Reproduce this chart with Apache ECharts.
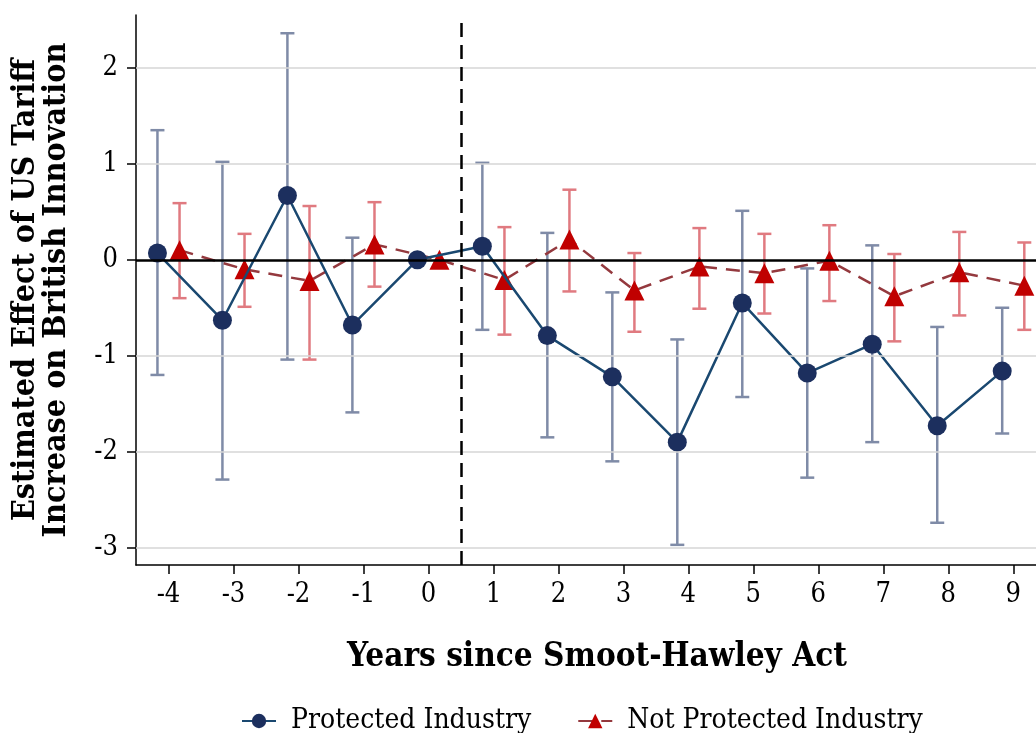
<!DOCTYPE html>
<html>
<head>
<meta charset="utf-8">
<script src="https://cdn.jsdelivr.net/npm/echarts@6/dist/echarts.min.js"></script>
<style>
  html, body { margin: 0; padding: 0; background: #fff; }
  #chart { width: 1036px; height: 733px; }
</style>
</head>
<body>
<div id="chart"></div>
<script>
// Event-study estimates: years relative to the Smoot-Hawley Act (year 0 is the reference year)
const years = [-4, -3, -2, -1, 0, 1, 2, 3, 4, 5, 6, 7, 8, 9];

const protectedEst = [0.07, -0.63, 0.67, -0.68, 0, 0.14, -0.79, -1.22, -1.90, -0.45, -1.18, -0.88, -1.73, -1.16];
const protectedLo  = [-1.20, -2.29, -1.04, -1.59, null, -0.73, -1.85, -2.10, -2.97, -1.43, -2.27, -1.90, -2.74, -1.81];
const protectedHi  = [1.35, 1.02, 2.36, 0.23, null, 1.01, 0.28, -0.34, -0.83, 0.51, -0.09, 0.15, -0.70, -0.50];

const notProtEst = [0.10, -0.10, -0.22, 0.16, 0, -0.21, 0.21, -0.32, -0.07, -0.14, -0.01, -0.38, -0.13, -0.27];
const notProtLo  = [-0.40, -0.49, -1.04, -0.28, null, -0.78, -0.33, -0.75, -0.51, -0.56, -0.43, -0.85, -0.58, -0.73];
const notProtHi  = [0.59, 0.27, 0.56, 0.60, null, 0.34, 0.73, 0.07, 0.33, 0.27, 0.36, 0.06, 0.29, 0.18];

const yTicks = [-3, -2, -1, 0, 1, 2];
const treatmentLine = 0.5;

const FONT = '"DejaVu Serif Condensed", "DejaVu Serif", serif';
const SHIFT = 0.17; // horizontal dodge so the two groups do not overlap

const pts = (est, dx) => years.map((y, i) => [y + dx, est[i]]);
const bars = (lo, hi, dx) => years.map((y, i) => [y + dx, lo[i], hi[i]]).filter(d => d[1] != null);

function capRenderer(color) {
  return function (params, api) {
    const x = api.value(0);
    const lo = api.coord([x, api.value(1)]);
    const hi = api.coord([x, api.value(2)]);
    const w = 7;
    const style = { stroke: color, lineWidth: 2.5 };
    return {
      type: 'group',
      children: [
        { type: 'line', shape: { x1: lo[0], y1: lo[1], x2: hi[0], y2: hi[1] }, style },
        { type: 'line', shape: { x1: lo[0] - w, y1: lo[1], x2: lo[0] + w, y2: lo[1] }, style },
        { type: 'line', shape: { x1: hi[0] - w, y1: hi[1], x2: hi[0] + w, y2: hi[1] }, style }
      ]
    };
  };
}

const chart = echarts.init(document.getElementById('chart'), null, { renderer: 'canvas' });

chart.setOption({
  backgroundColor: '#fff',
  animation: false,
  grid: { left: 136, right: 0, top: 15, bottom: 168, containLabel: false, outerBoundsMode: 'none' },
  xAxis: {
    type: 'value',
    min: -4.5,
    max: 9.35,
    name: 'Years since Smoot-Hawley Act',
    nameLocation: 'middle',
    nameGap: 76,
    nameTextStyle: { fontFamily: FONT, fontWeight: 'bold', fontSize: 33, color: '#000', padding: [0, 0, 0, 22] },
    axisLine: { show: true, onZero: false, lineStyle: { color: '#000', width: 1.5 } },
    axisTick: { show: true, length: 9, lineStyle: { color: '#000', width: 1.5 }, customValues: years },
    axisLabel: { customValues: years, fontFamily: FONT, fontSize: 27, color: '#000', margin: 16 },
    splitLine: { show: false }
  },
  yAxis: {
    type: 'value',
    min: -3.18,
    max: 2.55,
    name: 'Estimated Effect of US Tariff\nIncrease on British Innovation',
    nameLocation: 'middle',
    nameGap: 64,
    nameTextStyle: { fontFamily: FONT, fontWeight: 'bold', fontSize: 32, color: '#000', lineHeight: 31 },
    axisLine: { show: true, onZero: false, lineStyle: { color: '#000', width: 1.5 } },
    axisTick: { show: true, length: 9, lineStyle: { color: '#000', width: 1.5 }, customValues: yTicks },
    axisLabel: { customValues: yTicks, fontFamily: FONT, fontSize: 27, color: '#000', margin: 18 },
    splitLine: { show: false }
  },
  legend: {
    top: 702,
    left: 236,
    itemGap: 46,
    itemWidth: 34,
    itemHeight: 18,
    textStyle: { fontFamily: FONT, fontSize: 28, color: '#000', padding: [0, 0, 0, 10] },
    data: ['Protected Industry', 'Not Protected Industry']
  },
  series: [
    {
      // reference lines: light grid, bold zero line, dashed treatment line
      type: 'line',
      data: [],
      silent: true,
      markLine: {
        symbol: 'none',
        silent: true,
        label: { show: false },
        data: [
          ...yTicks.filter(v => v !== 0).map(v => ({ yAxis: v, lineStyle: { color: '#d6d6d6', width: 1.5, type: 'solid' } })),
          { yAxis: 0, lineStyle: { color: '#000', width: 2.5, type: 'solid' } },
          { xAxis: treatmentLine, lineStyle: { color: '#000', width: 2.5, type: [14, 8] } }
        ]
      },
      z: 1
    },
    {
      name: 'Protected CI',
      type: 'custom',
      renderItem: capRenderer('#7f8ba7'),
      data: bars(protectedLo, protectedHi, -SHIFT),
      encode: { x: 0, y: [1, 2] },
      z: 2
    },
    {
      name: 'Not Protected CI',
      type: 'custom',
      renderItem: capRenderer('#e07a80'),
      data: bars(notProtLo, notProtHi, SHIFT),
      encode: { x: 0, y: [1, 2] },
      z: 2
    },
    {
      name: 'Not Protected Industry',
      type: 'line',
      data: pts(notProtEst, SHIFT),
      symbol: 'triangle',
      symbolSize: 20,
      itemStyle: { color: '#c00000' },
      lineStyle: { color: '#94393e', width: 2.5, type: [14, 9] },
      z: 3
    },
    {
      name: 'Protected Industry',
      type: 'line',
      data: pts(protectedEst, -SHIFT),
      symbol: 'circle',
      symbolSize: 19,
      itemStyle: { color: '#1c2f5e' },
      lineStyle: { color: '#1a4870', width: 2.5 },
      z: 4
    }
  ]
});
</script>
</body>
</html>
